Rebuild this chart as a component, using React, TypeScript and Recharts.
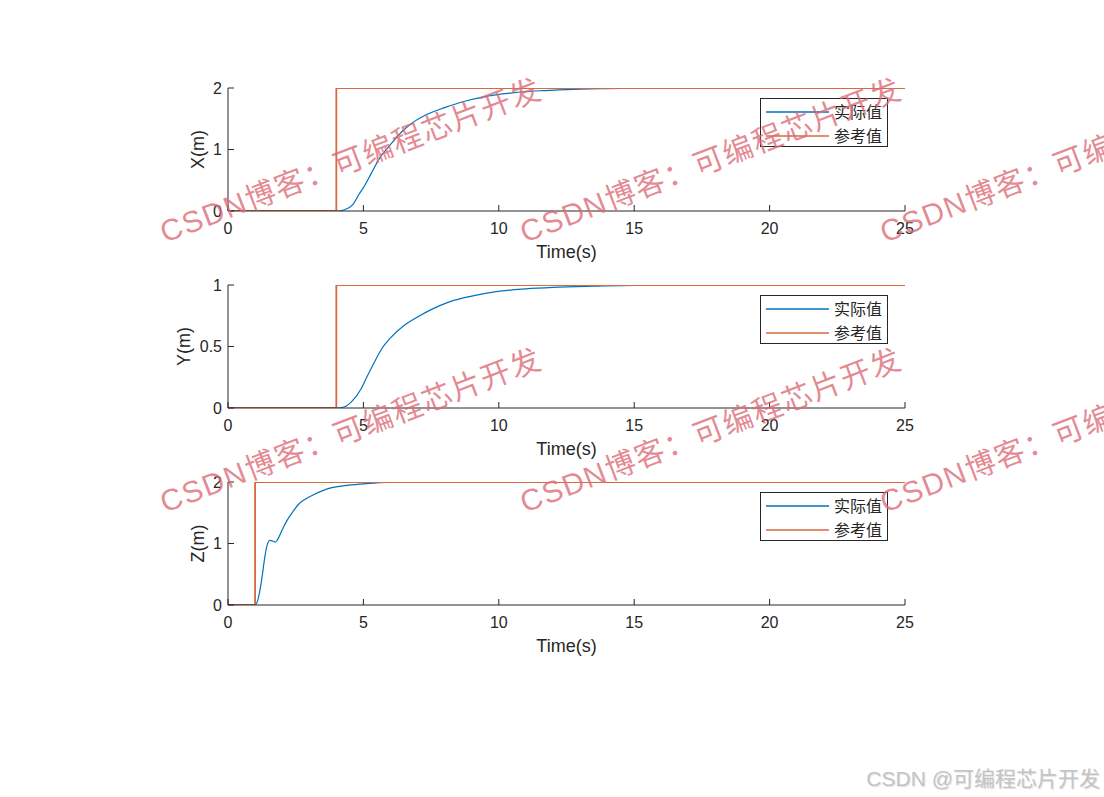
import React from "react";
import { LineChart, Line, XAxis, YAxis, Legend } from "recharts";

// time axis
const timeTicks = [0, 5, 10, 15, 20, 25];

// X position
const xActualT = [0, 4.05, 4.3, 4.6, 4.85, 5.0, 5.3, 5.6, 6.0, 6.4, 6.8, 7.3, 8.0, 8.7, 9.5, 10.5, 11.5, 12.5, 14, 16, 25];
const xActualV = [0, 0, 0.02, 0.1, 0.28, 0.38, 0.62, 0.86, 1.08, 1.28, 1.43, 1.56, 1.68, 1.78, 1.86, 1.92, 1.955, 1.975, 1.99, 2.0, 2.0];
const xRefT = [0, 4, 4, 25];
const xRefV = [0, 0, 2, 2];
const xTicks = [0, 1, 2];

// Y position
const yActualT = [0, 4.05, 4.3, 4.6, 4.9, 5.1, 5.4, 5.7, 6.0, 6.5, 7.0, 7.5, 8.2, 9.0, 9.9, 11, 12, 13.5, 15, 25];
const yActualV = [0, 0, 0.01, 0.06, 0.15, 0.24, 0.37, 0.49, 0.57, 0.67, 0.74, 0.8, 0.865, 0.91, 0.946, 0.968, 0.98, 0.99, 0.997, 1.0];
const yRefT = [0, 4, 4, 25];
const yRefV = [0, 0, 1, 1];
const yTicks = [0, 0.5, 1];

// Z position
const zActualT = [0, 1.0, 1.1, 1.24, 1.35, 1.43, 1.55, 1.65, 1.75, 1.85, 2.0, 2.16, 2.4, 2.59, 2.85, 3.14, 3.5, 3.76, 4.3, 5.0, 5.6, 6.5, 25];
const zActualV = [0, 0, 0.08, 0.4, 0.75, 0.95, 1.05, 1.04, 1.02, 1.08, 1.22, 1.36, 1.52, 1.63, 1.72, 1.79, 1.86, 1.9, 1.94, 1.97, 1.99, 2.0, 2.0];
const zRefT = [0, 1, 1, 25];
const zRefV = [0, 0, 2, 2];
const zTicks = [0, 1, 2];

const seriesNames = ["实际值", "参考值"];
const watermark = "CSDN博客：可编程芯片开发";
const footer = "CSDN @可编程芯片开发";

const FONT = "'Liberation Sans', Arial, Helvetica, sans-serif";
const CJK = "'Noto Sans CJK SC', sans-serif";
const MIXED = "'Liberation Sans', 'Noto Sans CJK SC', sans-serif";
const AXIS = "#262626";
const BLUE = "#0072BD";
const ORANGE = "#D9693F";
const TICK_LEN = 6;
const PLOT_H = 123;
const TOP_PAD = 10;
const AXIS_H = 47;
const BOTTOM_PAD = 8;

const pts = (t: number[], v: number[]) => t.map((time, i) => ({ time, value: v[i] }));

const panels = [
  { label: "X(m)", top: 88, max: 2, ticks: xTicks, labelGap: 30, actual: pts(xActualT, xActualV), ref: pts(xRefT, xRefV) },
  { label: "Y(m)", top: 285, max: 1, ticks: yTicks, labelGap: 44, actual: pts(yActualT, yActualV), ref: pts(yRefT, yRefV) },
  { label: "Z(m)", top: 482, max: 2, ticks: zTicks, labelGap: 30, actual: pts(zActualT, zActualV), ref: pts(zRefT, zRefV) },
];

function BottomTick({ x, y, payload }: any) {
  const axisY = y - 11;
  return (
    <g>
      <line x1={x} x2={x} y1={axisY} y2={axisY - TICK_LEN} stroke={AXIS} />
      <text x={x} y={y} dy="0.72em" textAnchor="middle" fontSize={16} fill={AXIS} fontFamily={FONT}>
        {payload.value}
      </text>
    </g>
  );
}

function LeftTick({ x, y, payload }: any) {
  const axisX = x + 6;
  return (
    <g>
      <line x1={axisX} x2={axisX + TICK_LEN} y1={y} y2={y} stroke={AXIS} />
      <text x={x} y={y} dy="0.36em" textAnchor="end" fontSize={16} fill={AXIS} fontFamily={FONT}>
        {payload.value}
      </text>
    </g>
  );
}

function TopTick({ x, y }: any) {
  return <line x1={x} x2={x} y1={y} y2={y + TICK_LEN} stroke={AXIS} />;
}

function RightTick({ x, y }: any) {
  return <line x1={x} x2={x - TICK_LEN} y1={y} y2={y} stroke={AXIS} />;
}

function LegendBox({ payload }: any) {
  const items = [...(payload || [])].sort(
    (a: any, b: any) => seriesNames.indexOf(a.value) - seriesNames.indexOf(b.value)
  );
  return (
    <div
      style={{
        width: 126,
        height: 47,
        border: "1px solid #262626",
        background: "#fff",
        boxSizing: "content-box",
      }}
    >
      {items.map((p: any) => (
        <div key={p.value} style={{ display: "flex", alignItems: "center", height: 23, marginTop: 1 }}>
          <svg width={73} height={10}>
            <line x1={5} x2={68} y1={5} y2={5} stroke={p.color} strokeWidth={1.5} />
          </svg>
          <span style={{ fontFamily: CJK, fontSize: 16, color: AXIS, lineHeight: "23px" }}>{p.value}</span>
        </div>
      ))}
    </div>
  );
}

function Panel({ panel }: { panel: (typeof panels)[number] }) {
  const yLabel = (props: any) => {
    const vb = props.viewBox;
    const cx = vb.x + vb.width - panel.labelGap;
    const cy = vb.y + vb.height / 2;
    return (
      <text
        x={cx}
        y={cy}
        transform={`rotate(-90 ${cx} ${cy})`}
        textAnchor="middle"
        dominantBaseline="central"
        fontSize={18}
        fill={AXIS}
        fontFamily={FONT}
      >
        {panel.label}
      </text>
    );
  };

  return (
    <div style={{ position: "absolute", left: 0, top: panel.top - TOP_PAD }}>
      <LineChart
        width={1104}
        height={TOP_PAD + PLOT_H + AXIS_H + BOTTOM_PAD}
        margin={{ top: TOP_PAD, right: 199, bottom: BOTTOM_PAD, left: 0 }}
      >
        <XAxis
          dataKey="time"
          type="number"
          domain={[0, 25]}
          ticks={timeTicks}
          allowDataOverflow
          height={AXIS_H}
          tickSize={0}
          tickMargin={11}
          tick={<BottomTick />}
          axisLine={{ stroke: AXIS }}
          label={{ value: "Time(s)", position: "insideBottom", offset: 0, fontSize: 18, fill: AXIS, fontFamily: FONT }}
        />
        <XAxis
          xAxisId="top"
          orientation="top"
          dataKey="time"
          type="number"
          domain={[0, 25]}
          ticks={timeTicks}
          allowDataOverflow
          height={0}
          tickSize={0}
          tickMargin={0}
          tick={<TopTick />}
          axisLine={{ stroke: AXIS }}
        />
        <YAxis
          type="number"
          domain={[0, panel.max]}
          ticks={panel.ticks}
          allowDataOverflow
          width={228}
          tickSize={0}
          tickMargin={6}
          tick={<LeftTick />}
          axisLine={{ stroke: AXIS }}
          label={yLabel}
        />
        <YAxis
          yAxisId="right"
          orientation="right"
          type="number"
          domain={[0, panel.max]}
          ticks={panel.ticks}
          allowDataOverflow
          width={0}
          tickSize={0}
          tickMargin={0}
          tick={<RightTick />}
          axisLine={{ stroke: AXIS }}
        />
        <Line
          data={panel.actual}
          dataKey="value"
          name={seriesNames[0]}
          type="monotone"
          stroke={BLUE}
          strokeWidth={1.2}
          dot={false}
          isAnimationActive={false}
        />
        <Line
          data={panel.ref}
          dataKey="value"
          name={seriesNames[1]}
          type="linear"
          stroke={ORANGE}
          strokeWidth={1.8}
          dot={false}
          isAnimationActive={false}
        />
        <Legend
          layout="vertical"
          align="center"
          verticalAlign="middle"
          content={<LegendBox />}
          wrapperStyle={{ left: 760, top: TOP_PAD + 10, width: "auto", height: "auto" }}
        />
      </LineChart>
    </div>
  );
}

export default function App() {
  const marks: { x: number; y: number }[] = [];
  [243, 513].forEach((y) => [165, 525, 885].forEach((x) => marks.push({ x, y })));

  return (
    <div style={{ position: "relative", width: 1104, height: 797, background: "#fff", overflow: "hidden" }}>
      <style>{"body{margin:0}"}</style>
      {panels.map((p) => (
        <Panel key={p.label} panel={p} />
      ))}
      <svg width={1104} height={797} style={{ position: "absolute", left: 0, top: 0, pointerEvents: "none" }}>
        {marks.map((m, i) => (
          <text
            key={i}
            x={m.x}
            y={m.y}
            transform={`rotate(-21 ${m.x} ${m.y})`}
            fontSize={30}
            letterSpacing={1.5}
            fill="#dc6a76"
            fillOpacity={0.78}
            fontFamily={MIXED}
          >
            {watermark}
          </text>
        ))}
      </svg>
      <div
        style={{
          position: "absolute",
          right: 4,
          top: 762,
          fontFamily: MIXED,
          fontSize: 21,
          color: "#c4c4c4",
          textShadow: "1px 1px 1px #e0e0e0",
          whiteSpace: "nowrap",
        }}
      >
        {footer}
      </div>
    </div>
  );
}
